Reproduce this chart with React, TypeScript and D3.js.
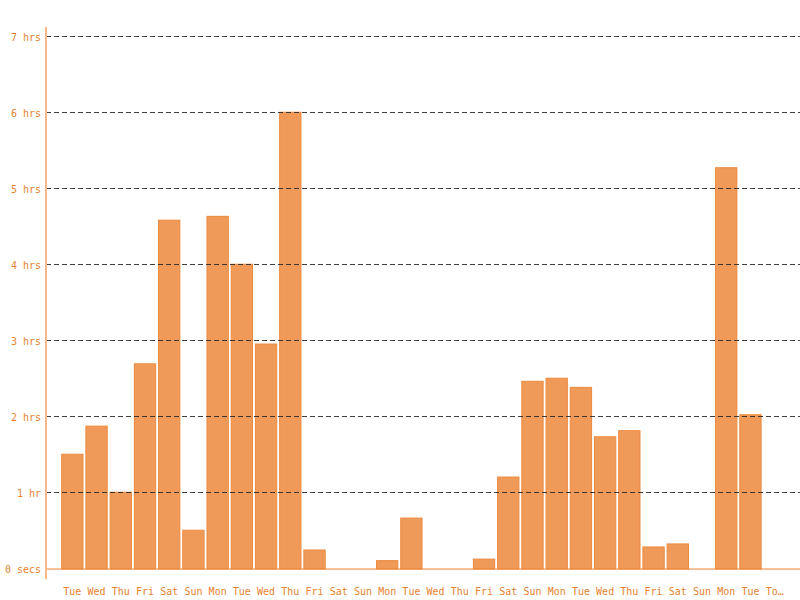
import React from "react";
import * as d3 from "d3";

const days = ["Tue","Wed","Thu","Fri","Sat","Sun","Mon","Tue","Wed","Thu","Fri","Sat","Sun","Mon","Tue","Wed","Thu","Fri","Sat","Sun","Mon","Tue","Wed","Thu","Fri","Sat","Sun","Mon","Tue","Today"];
const hours = [1.51,1.88,1.01,2.70,4.59,0.51,4.64,4.01,2.96,6.01,0.25,0,0,0.11,0.67,0,0,0.13,1.21,2.47,2.51,2.39,1.74,1.82,0.29,0.33,0,5.28,2.03,0];
const yTicks = [0,1,2,3,4,5,6,7];
const yTickLabels = ["0 secs","1 hr","2 hrs","3 hrs","4 hrs","5 hrs","6 hrs","7 hrs"];

const W = 800, H = 600;
const axisX = 46, baseY = 569, topY = 37;

export default function App() {
  const ids = days.map((_, i) => String(i));
  const x = d3.scaleBand<string>().domain(ids).range([61.2, 785.8]).paddingInner(0.12).paddingOuter(0.02);
  const y = d3.scaleLinear().domain([0, 7]).range([baseY, topY]);
  const font = "'DejaVu Sans Mono', monospace";
  const truncate = (s: string) => (s.length > 3 ? s.slice(0, 2) + "…" : s);
  return (
    <svg width={W} height={H} style={{ position: "absolute", left: 0, top: 0 }}>
      <rect width={W} height={H} fill="#fff" />
      {hours.map((v, i) => (
        <rect key={i} x={x(String(i))!} y={y(v)} width={x.bandwidth()} height={Math.max(0, baseY - y(v))}
          fill="#f09a5a" stroke="#ec8a3e" strokeWidth={1} />
      ))}
      {yTicks.slice(1).map((t) => (
        <line key={t} x1={axisX} x2={W} y1={y(t) - 0.5} y2={y(t) - 0.5} stroke="#2a2a2a" strokeOpacity={0.9} strokeWidth={1} strokeDasharray="5,3" />
      ))}
      <line x1={axisX} x2={W} y1={baseY} y2={baseY} stroke="#ef8230" strokeWidth={1} />
      <line x1={axisX} x2={axisX} y1={27} y2={579} stroke="#f8b98a" strokeWidth={2} />
      {yTicks.map((t, i) => (
        <text key={t} x={41} y={y(t)} dy="0.35em" textAnchor="end" fontFamily={font} fontSize={10} fill="#e8822e">{yTickLabels[i]}</text>
      ))}
      {days.map((d, i) => (
        <text key={i} x={x(String(i))! + x.bandwidth() / 2} y={595} textAnchor="middle" fontFamily={font} fontSize={10} fill="#e8822e">{truncate(d)}</text>
      ))}
    </svg>
  );
}
